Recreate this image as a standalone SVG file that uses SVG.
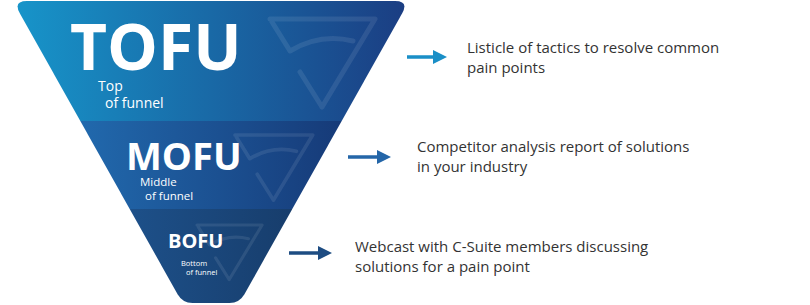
<svg xmlns="http://www.w3.org/2000/svg" width="810" height="305" viewBox="0 0 810 305">
<style>
.lbl{font-family:"Open Sans","Noto Sans",sans-serif;fill:#fff}
.big{font-weight:700}
.body{font-family:"Open Sans","Noto Sans",sans-serif;font-size:15px;fill:#333}
.wm{fill:none;stroke:#fff;stroke-opacity:0.09;stroke-linecap:round;stroke-linejoin:round;stroke-width:5}
</style>
<defs>
<clipPath id="funnelClip">
<path d="M27,1 L395,1 Q409,1 402.2,13.2 L244.4,294.3 Q239.5,303 229.5,303 L192.5,303 Q182.5,303 177.6,294.3 L19.8,13.2 Q13,1 27,1 Z"/>
</clipPath>
<linearGradient id="gTofu" x1="13" y1="0" x2="409" y2="0" gradientUnits="userSpaceOnUse">
<stop offset="0" stop-color="#1795ca"/><stop offset="1" stop-color="#1b3d82"/>
</linearGradient>
<linearGradient id="gMofu" x1="80" y1="0" x2="342" y2="0" gradientUnits="userSpaceOnUse">
<stop offset="0" stop-color="#2169ad"/><stop offset="1" stop-color="#163a78"/>
</linearGradient>
<linearGradient id="gBofu" x1="130" y1="0" x2="292" y2="0" gradientUnits="userSpaceOnUse">
<stop offset="0" stop-color="#1d5089"/><stop offset="1" stop-color="#173d6c"/>
</linearGradient>
<path id="wmShape" d="M52,88 L105,0 L0,0 M2,3 L20,32 Q50,14 83,22 M30,53 L52,88"/>
</defs>
<g id="funnel" clip-path="url(#funnelClip)">
<g id="tofu">
<rect x="0" y="0" width="420" height="121" fill="url(#gTofu)"/>
<use href="#wmShape" class="wm" transform="translate(270,19)"/>
<text class="lbl big" x="70" y="70" font-size="64">TOFU</text>
<text class="lbl" x="98" y="91" font-size="14">Top</text>
<text class="lbl" x="105" y="108" font-size="14">of funnel</text>
</g>
<g id="mofu">
<rect x="0" y="121" width="420" height="88" fill="url(#gMofu)"/>
<use href="#wmShape" class="wm" transform="translate(235,135) scale(0.74)"/>
<text class="lbl big" x="126" y="170" font-size="38">MOFU</text>
<text class="lbl" x="140" y="186" font-size="11.5">Middle</text>
<text class="lbl" x="145" y="200" font-size="11.5">of funnel</text>
</g>
<g id="bofu">
<rect x="0" y="209" width="420" height="96" fill="url(#gBofu)"/>
<use href="#wmShape" class="wm" transform="translate(197,225) scale(0.62)"/>
<text class="lbl big" x="168" y="248" font-size="20">BOFU</text>
<text class="lbl" x="181" y="265.5" font-size="7.5">Bottom</text>
<text class="lbl" x="186" y="275" font-size="7.5">of funnel</text>
</g>
</g>
<g id="connectors">
<line x1="407" y1="57" x2="436" y2="57" stroke="#1a8fc7" stroke-width="3.5"/>
<polygon points="433,50 447,57 433,64" fill="#1a8fc7"/>
<line x1="348" y1="157" x2="380" y2="157" stroke="#2466a8" stroke-width="3.5"/>
<polygon points="377,150 391,157 377,164" fill="#2466a8"/>
<line x1="289" y1="253" x2="321" y2="253" stroke="#1d4c82" stroke-width="3.5"/>
<polygon points="318,246 332,253 318,260" fill="#1d4c82"/>
</g>
<g id="texts">
<text class="body" x="467" y="53">Listicle of tactics to resolve common</text>
<text class="body" x="467" y="73">pain points</text>
<text class="body" x="417" y="152">Competitor analysis report of solutions</text>
<text class="body" x="417" y="172">in your industry</text>
<text class="body" x="355" y="252">Webcast with C-Suite members discussing</text>
<text class="body" x="355" y="272">solutions for a pain point</text>
</g>
</svg>
